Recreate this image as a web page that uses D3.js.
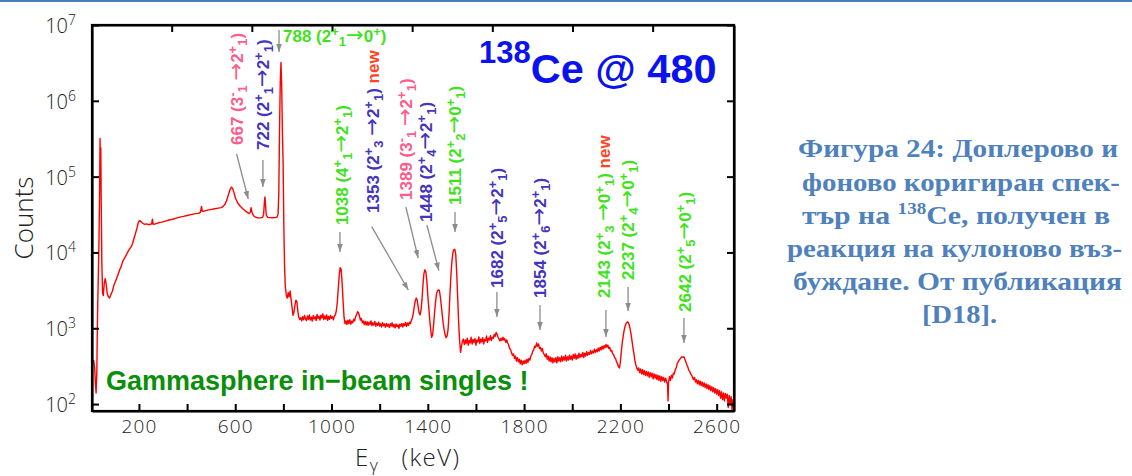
<!DOCTYPE html>
<html>
<head>
<meta charset="utf-8">
<script src="https://cdn.jsdelivr.net/npm/d3@7"></script>
<style>
  html, body { margin: 0; padding: 0; background: #fff; }
  svg { display: block; }
</style>
</head>
<body>
<svg id="chart" width="1132" height="476"></svg>
<script>
// Doppler- and background-corrected gamma-ray singles spectrum: [E (keV), counts]
const spectrum = [
  [12, 380], [16, 300], [19, 190], [22, 140], [25, 260], [28, 1500], [31, 4500], [34, 14000],
  [36.5, 60000], [38.5, 320000], [40, 110000], [41.5, 240000], [43.5, 40000], [46, 7000],
  [49, 2900], [52, 2700], [56, 3900], [60, 4500], [64, 3800], [68, 2900], [73, 2600], [78, 2500],
  [84, 2800], [90, 3100], [96, 3700], [102, 4100], [108, 4600], [114, 5200], [120, 5900],
  [126, 6500], [132, 7500], [138, 8200], [144, 8800], [150, 9600], [156, 10500], [162, 11200],
  [168, 11900], [174, 13200], [180, 15500], [186, 18000], [192, 21000], [197, 24500],
  [202, 26300], [207, 25800], [212, 24800], [218, 24000], [225, 23500], [232, 23800],
  [240, 23200], [248, 23500], [253, 24000], [256, 27500], [259, 23500], [265, 23600],
  [275, 24200], [285, 24800], [295, 25100], [310, 25900], [325, 26800], [340, 27400],
  [355, 28300], [370, 29200], [385, 29900], [400, 30700], [415, 31500], [430, 32300],
  [445, 32800], [454, 33400], [457, 36000], [460, 40500], [463, 35000], [470, 35000],
  [485, 36200], [500, 37000], [515, 37700], [530, 38400], [542, 39000], [550, 40500],
  [558, 43500], [565, 49000], [572, 58000], [578, 67000], [584, 72500], [589, 70000],
  [595, 61000], [602, 51000], [611, 44500], [620, 41000], [630, 38000], [640, 35800],
  [650, 33800], [658, 32500], [662, 33500], [666, 39000], [670, 33500], [676, 30500],
  [684, 29200], [694, 28700], [705, 28600], [714, 29000], [718, 32000], [721, 45000],
  [723.5, 54000], [726, 42000], [729, 31000], [735, 29000], [745, 28800], [755, 28700],
  [765, 28800], [773, 29200], [778, 32000], [781, 60000], [784, 400000], [787, 1700000],
  [790, 3200000], [793, 1600000], [796, 380000], [799, 150000], [802, 22000], [805, 6500],
  [808, 3600], [812, 2750], [816, 2500], [820, 2950], [824, 2600], [828, 3100], [832, 2400],
  [836, 1900], [840, 1480], [844, 1620], [848, 2000], [852, 2350], [856, 2250], [860, 1700],
  [864, 1400], [868, 1300], [872, 1380], [876, 1250], [880, 1420], [884, 1290], [888, 1480],
  [892, 1330], [896, 1260], [900, 1450], [904, 1310], [908, 1500], [912, 1280], [916, 1400],
  [920, 1240], [924, 1470], [928, 1330], [932, 1420], [936, 1260], [940, 1520], [944, 1350],
  [948, 1440], [952, 1280], [956, 1490], [960, 1360], [964, 1550], [968, 1300], [972, 1450],
  [976, 1320], [980, 1500], [984, 1270], [988, 1430], [992, 1310], [996, 1480], [1000, 1350],
  [1004, 1420], [1008, 1290], [1012, 1460], [1016, 1500], [1020, 1700], [1024, 2200],
  [1028, 3300], [1032, 5000], [1036, 6300], [1040, 6000], [1044, 4000], [1048, 2300],
  [1052, 1400], [1056, 1150], [1060, 1250], [1064, 1120], [1068, 1280], [1072, 1150],
  [1076, 1300], [1080, 1130], [1084, 1240], [1088, 1180], [1092, 1320], [1096, 1250],
  [1100, 1420], [1104, 1500], [1108, 1650], [1112, 1600], [1116, 1450], [1120, 1280],
  [1124, 1350], [1128, 1180], [1132, 1250], [1136, 1120], [1140, 1230], [1144, 1100],
  [1148, 1220], [1152, 1090], [1156, 1200], [1160, 1120], [1164, 1250], [1168, 1080],
  [1172, 1180], [1176, 1100], [1180, 1230], [1184, 1060], [1188, 1170], [1192, 1090],
  [1196, 1200], [1200, 1070], [1204, 1150], [1208, 1040], [1212, 1180], [1216, 1080],
  [1220, 1140], [1224, 1030], [1228, 1160], [1232, 1060], [1236, 1130], [1240, 1020],
  [1244, 1150], [1248, 1070], [1252, 1180], [1256, 1040], [1260, 1120], [1264, 1010],
  [1268, 1140], [1272, 1050], [1276, 1110], [1280, 1000], [1284, 1130], [1288, 1060],
  [1292, 1160], [1296, 1040], [1300, 1150], [1304, 1080], [1308, 1190], [1312, 1060],
  [1316, 1170], [1320, 1090], [1324, 1200], [1328, 1150], [1332, 1280], [1336, 1380],
  [1340, 1600], [1344, 1950], [1348, 2300], [1352, 2500], [1356, 2350], [1360, 1900],
  [1364, 1600], [1368, 1500], [1372, 1750], [1376, 2400], [1380, 3800], [1384, 5300],
  [1388, 5900], [1392, 5500], [1396, 4200], [1400, 2700], [1404, 1900], [1408, 1300],
  [1412, 950], [1416, 760], [1420, 820], [1424, 1100], [1428, 1600], [1432, 2200],
  [1436, 2800], [1440, 3100], [1444, 3200], [1448, 3150], [1452, 2600], [1456, 2000],
  [1460, 1500], [1464, 1150], [1468, 950], [1472, 820], [1476, 750], [1480, 790],
  [1484, 950], [1488, 1500], [1492, 2800], [1496, 5000], [1500, 7500], [1504, 9800],
  [1508, 10900], [1512, 11000], [1516, 9500], [1520, 5500], [1524, 2600], [1528, 1200],
  [1532, 700], [1536, 480], [1540, 580], [1544, 680], [1548, 720], [1552, 610], [1556, 700],
  [1560, 630], [1564, 740], [1568, 600], [1572, 690], [1576, 640], [1580, 760], [1584, 620],
  [1588, 710], [1592, 650], [1596, 730], [1600, 600], [1604, 700], [1608, 660], [1612, 770],
  [1616, 630], [1620, 720], [1624, 660], [1628, 750], [1632, 620], [1636, 710], [1640, 680],
  [1644, 790], [1648, 650], [1652, 740], [1656, 700], [1660, 800], [1664, 690], [1668, 760],
  [1672, 740], [1676, 830], [1680, 780], [1684, 880], [1688, 830], [1692, 760], [1696, 720],
  [1700, 680], [1704, 740], [1708, 690], [1712, 760], [1716, 700], [1720, 730], [1724, 650],
  [1728, 700], [1732, 640], [1736, 600], [1740, 540], [1744, 520], [1748, 470], [1752, 440],
  [1756, 460], [1760, 400], [1764, 430], [1768, 370], [1772, 410], [1776, 360], [1780, 390],
  [1784, 340], [1788, 380], [1792, 330], [1796, 370], [1800, 340], [1804, 380], [1808, 345],
  [1812, 390], [1816, 355], [1820, 400], [1824, 380], [1828, 430], [1832, 450], [1836, 500],
  [1840, 520], [1844, 580], [1848, 560], [1852, 640], [1856, 580], [1860, 620], [1864, 540],
  [1868, 560], [1872, 500], [1876, 540], [1880, 470], [1884, 450], [1888, 420], [1892, 460],
  [1896, 390], [1900, 430], [1904, 370], [1908, 420], [1912, 360], [1916, 410], [1920, 350],
  [1924, 400], [1928, 360], [1932, 410], [1936, 350], [1940, 420], [1944, 370], [1948, 410],
  [1952, 360], [1956, 430], [1960, 370], [1964, 420], [1968, 380], [1972, 440], [1976, 370],
  [1980, 420], [1984, 380], [1988, 440], [1992, 390], [1996, 430], [2000, 380], [2004, 450],
  [2008, 400], [2012, 460], [2016, 390], [2020, 440], [2024, 400], [2028, 470], [2032, 410],
  [2036, 450], [2040, 420], [2044, 480], [2048, 410], [2052, 470], [2056, 430], [2060, 490],
  [2064, 440], [2068, 480], [2072, 450], [2076, 510], [2080, 460], [2084, 500], [2088, 470],
  [2092, 530], [2096, 480], [2100, 520], [2104, 490], [2108, 550], [2112, 500], [2116, 560],
  [2120, 520], [2124, 580], [2128, 530], [2132, 590], [2136, 550], [2140, 610], [2144, 560],
  [2148, 600], [2152, 540], [2156, 560], [2160, 500], [2164, 510], [2168, 460], [2172, 450],
  [2176, 410], [2180, 400], [2184, 360], [2188, 340], [2192, 310], [2196, 300], [2200, 360],
  [2204, 500], [2208, 650], [2212, 800], [2216, 950], [2220, 1070], [2224, 1160], [2228, 1200],
  [2232, 1210], [2236, 1130], [2240, 1000], [2244, 850], [2248, 690], [2252, 560], [2256, 470],
  [2260, 380], [2264, 330], [2268, 300], [2272, 280], [2276, 300], [2280, 260], [2284, 290],
  [2288, 250], [2292, 285], [2296, 245], [2300, 275], [2304, 240], [2308, 270], [2312, 235],
  [2316, 265], [2320, 225], [2324, 260], [2328, 230], [2332, 255], [2336, 215], [2340, 250],
  [2344, 220], [2348, 245], [2352, 210], [2356, 240], [2360, 205], [2364, 235], [2368, 200],
  [2372, 230], [2376, 205], [2380, 225], [2384, 195], [2388, 220], [2392, 200], [2396, 180],
  [2398, 110], [2400, 190], [2404, 230], [2408, 205], [2412, 240], [2416, 220], [2420, 255],
  [2424, 250], [2428, 285], [2432, 300], [2436, 340], [2440, 360], [2444, 380], [2448, 395],
  [2452, 410], [2456, 420], [2460, 415], [2464, 420], [2468, 390], [2472, 360], [2476, 330],
  [2480, 310], [2484, 280], [2488, 270], [2492, 250], [2496, 240], [2500, 225], [2504, 210],
  [2508, 225], [2512, 195], [2516, 210], [2520, 185], [2524, 205], [2528, 180], [2532, 200],
  [2536, 175], [2540, 195], [2544, 170], [2548, 190], [2552, 165], [2556, 185], [2560, 160],
  [2564, 180], [2568, 155], [2572, 175], [2576, 150], [2580, 170], [2584, 145], [2588, 165],
  [2592, 140], [2596, 160], [2600, 135], [2604, 155], [2608, 130], [2612, 150], [2616, 120],
  [2620, 145], [2624, 115], [2628, 140], [2632, 110], [2636, 138], [2640, 120], [2644, 135],
  [2648, 90], [2652, 130], [2656, 100], [2660, 125], [2664, 85], [2668, 115], [2672, 95]
];

// Axis ticks
const xTickValues = [200, 400, 600, 800, 1000, 1200, 1400, 1600, 1800, 2000, 2200, 2400, 2600];
const xTickLabels = [200, 600, 1000, 1400, 1800, 2200, 2600];
const topTickValues = [336, 669, 1002, 1335, 1668, 2001, 2334];
const yTickValues = [1e2, 1e3, 1e4, 1e5, 1e6, 1e7];

// Transition labels (^{..} superscript, _{..} subscript) and the peaks they point at
const lineLabels = [
  "667 (3^{-}_{1} →2^{+}_{1})",
  "722 (2^{+}_{1}→2^{+}_{1})",
  "788 (2^{+}_{1}→0^{+})",
  "1038 (4^{+}_{1}→2^{+}_{1})",
  "1353 (2^{+}_{3} →2^{+}_{1})",
  "1389 (3^{-}_{1} →2^{+}_{1})",
  "1448 (2^{+}_{4}→2^{+}_{1})",
  "1511 (2^{+}_{2}→0^{+}_{1})",
  "1682 (2^{+}_{5}→2^{+}_{1})",
  "1854 (2^{+}_{6}→2^{+}_{1})",
  "2143 (2^{+}_{3} →0^{+}_{1})",
  "2237 (2^{+}_{4}→0^{+}_{1})",
  "2642 (2^{+}_{5}→0^{+}_{1})"
];
const lineTags = ["", "", "", "", "new", "", "", "", "", "", "new", "", ""];
const arrowKeV = [654, 715, 782, 1035, 1319, 1360, 1446, 1513, 1687, 1866, 2140, 2232, 2464];
const arrowCounts = [50700, 73000, 4400000, 10100, 3200, 8450, 5780, 18600, 1410, 950, 767, 1690, 640];

// Label styling / placement (pixels relative to the arrow tip)
const PINK = "#ff5c8a", PURPLE = "#4534bd", GREEN = "#3fe31c", NEW_RED = "#ff4422";
const lineColors = [PINK, PURPLE, GREEN, GREEN, PURPLE, PINK, PURPLE, GREEN, PURPLE, PURPLE, GREEN, GREEN, GREEN];
const lineLayout = [
  { tail: [-11.6, -45], label: [0.8, -9] },
  { tail: [0, -27], label: [0, -10] },
  { tail: [0, -22], label: [4, 12], horizontal: true },
  { tail: [0, -20], label: [1.7, -7] },
  { tail: [-36.6, -63.3], label: [1.3, -13.7] },
  { tail: [-12.3, -51], label: [0, -7] },
  { tail: [-12, -45.5], label: [-1, -3] },
  { tail: [0, -20], label: [0, -7] },
  { tail: [0, -25], label: [0, -4] },
  { tail: [0, -25], label: [0, -7] },
  { tail: [0, -27], label: [-2, -12] },
  { tail: [0, -24], label: [0, -7] },
  { tail: [0, -25], label: [1, -6] }
];

// Caption lines
const captionLines = [
  ["Фигура 24: Доплерово и"],
  ["фоново коригиран спек-"],
  ["тър на ", "^138", "Ce, получен в"],
  ["реакция на кулоново въз-"],
  ["буждане. От публикация"],
  ["[D18]."]
];
const captionLayout = [
  { x: 798, y: 157, w: 320 },
  { x: 802, y: 191, w: 318 },
  { x: 802, y: 224, w: 308 },
  { x: 787, y: 257, w: 335 },
  { x: 793, y: 290, w: 329 },
  { x: 922, y: 323, w: 75 }
];

const W = 1132, H = 476;
const plot = { left: 92, right: 734, top: 25, bottom: 411 };
const AXIS_FONT = "'Open Sans', 'Liberation Sans', sans-serif";
const LABEL_FONT = "'Liberation Sans', Arial, sans-serif";

const x = d3.scaleLinear().domain([5, 2672]).range([plot.left, plot.right]);
const y = d3.scaleLog().domain([81, 1e7]).range([plot.bottom, plot.top]);

const svg = d3.select("#chart");
const defs = svg.append("defs");

defs.append("clipPath").attr("id", "plotClip")
  .append("rect")
  .attr("x", plot.left).attr("y", plot.top)
  .attr("width", plot.right - plot.left).attr("height", plot.bottom - plot.top);

defs.append("marker")
  .attr("id", "arrowHead")
  .attr("viewBox", "0 0 10 10")
  .attr("refX", 10).attr("refY", 5)
  .attr("markerWidth", 8).attr("markerHeight", 8)
  .attr("markerUnits", "userSpaceOnUse")
  .attr("orient", "auto")
  .append("path")
  .attr("d", "M0,1.5L10,5L0,8.5Z")
  .attr("fill", "#8c8c8c");

// Header rule
svg.append("line")
  .attr("x1", 0).attr("x2", W).attr("y1", 1).attr("y2", 1)
  .attr("stroke", "#4a7ebb").attr("stroke-width", 2);

// Spectrum
svg.append("path")
  .datum(spectrum)
  .attr("clip-path", "url(#plotClip)")
  .attr("fill", "none")
  .attr("stroke", "#ff0000")
  .attr("stroke-width", 1.4)
  .attr("stroke-linejoin", "round")
  .attr("d", d3.line().x(d => x(d[0])).y(d => y(d[1])));

// Axes: ticks point inward on all four sides
function styleAxis(g) {
  g.select(".domain").attr("stroke", "#000").attr("stroke-width", 2.2);
  g.selectAll(".tick line").attr("stroke", "#000").attr("stroke-width", 2);
  g.selectAll(".tick text")
    .attr("font-family", AXIS_FONT)
    .attr("font-weight", 300)
    .attr("font-size", 19)
    .attr("letter-spacing", 1.2)
    .attr("fill", "#222");
}
const blank = () => "";

svg.append("g")
  .attr("transform", `translate(0,${plot.bottom})`)
  .call(d3.axisBottom(x).tickValues(xTickValues)
    .tickFormat(d => xTickLabels.includes(d) ? String(d) : "")
    .tickSizeInner(-7).tickSizeOuter(0).tickPadding(9))
  .call(styleAxis);

svg.append("g")
  .attr("transform", `translate(0,${plot.top})`)
  .call(d3.axisTop(x).tickValues(topTickValues).tickFormat(blank)
    .tickSizeInner(-7).tickSizeOuter(0))
  .call(styleAxis);

svg.append("g")
  .attr("transform", `translate(${plot.left},0)`)
  .call(d3.axisLeft(y).tickValues(yTickValues).tickFormat(blank)
    .tickSizeInner(-7).tickSizeOuter(0))
  .call(styleAxis);

svg.append("g")
  .attr("transform", `translate(${plot.right},0)`)
  .call(d3.axisRight(y).tickValues(yTickValues).tickFormat(blank)
    .tickSizeInner(-7).tickSizeOuter(0))
  .call(styleAxis);

svg.append("rect")
  .attr("x", plot.left).attr("y", plot.top)
  .attr("width", plot.right - plot.left).attr("height", plot.bottom - plot.top)
  .attr("fill", "none").attr("stroke", "#000").attr("stroke-width", 2.2);

// Power-of-ten labels on the count axis
const yLab = svg.append("g").selectAll("text")
  .data(yTickValues).join("text")
  .attr("x", 76)
  .attr("y", d => y(d) + 8)
  .attr("text-anchor", "end")
  .attr("font-family", AXIS_FONT)
  .attr("font-weight", 300)
  .attr("font-size", 20)
  .attr("fill", "#222");
yLab.append("tspan").text("10");
yLab.append("tspan").attr("dy", -8).attr("font-size", 14)
  .text(d => String(Math.round(Math.log10(d))));

// Axis titles
svg.append("text")
  .attr("transform", "translate(33,218) rotate(-90)")
  .attr("text-anchor", "middle")
  .attr("font-family", AXIS_FONT)
  .attr("font-weight", 300)
  .attr("font-size", 26)
  .attr("fill", "#222")
  .text("Counts");

const xTitle = svg.append("text")
  .attr("x", 355).attr("y", 466)
  .attr("font-family", AXIS_FONT)
  .attr("font-weight", 300)
  .attr("font-size", 24)
  .attr("letter-spacing", 1.5)
  .attr("fill", "#222");
xTitle.append("tspan").text("E");
xTitle.append("tspan").attr("font-size", 17).attr("dy", 5).text("γ");
xTitle.append("tspan").attr("dy", -5).attr("dx", 22).text("(keV)");

// Nucleus / beam-energy title
const title = svg.append("text")
  .attr("x", 479).attr("y", 83)
  .attr("font-family", LABEL_FONT)
  .attr("font-weight", "bold")
  .attr("fill", "#0a12ee");
title.append("tspan").attr("font-size", 31).attr("dy", -20).text("138");
title.append("tspan").attr("font-size", 41.5).attr("dy", 20).text("Ce @ 480");

svg.append("text")
  .attr("x", 106).attr("y", 390)
  .attr("font-family", LABEL_FONT)
  .attr("font-weight", "bold")
  .attr("font-size", 27)
  .attr("fill", "#0a8f0a")
  .text("Gammasphere in\u2212beam singles !");

// Split a label into plain / superscript / subscript / arrow runs
function parseLabel(str) {
  const out = [];
  const re = /\^\{([^}]*)\}|_\{([^}]*)\}|(→)|([^^_→]+)/g;
  let m;
  while ((m = re.exec(str)) !== null) {
    if (m[1] !== undefined) out.push({ text: m[1], kind: "sup" });
    else if (m[2] !== undefined) out.push({ text: m[2], kind: "sub" });
    else if (m[3] !== undefined) out.push({ text: m[3], kind: "arrow" });
    else out.push({ text: m[4], kind: "" });
  }
  return out;
}

function writeRuns(textSel, runs, color, tag) {
  const BASE = 17, SMALL = 13;
  const offset = { "": 0, arrow: 0, sup: -6, sub: 4 };
  let cur = 0;
  runs.forEach(r => {
    const target = offset[r.kind];
    const ts = textSel.append("tspan")
      .attr("dy", target - cur)
      .attr("fill", color)
      .text(r.text);
    if (r.kind === "sup" || r.kind === "sub") {
      ts.attr("font-size", SMALL);
    } else if (r.kind === "arrow") {
      ts.attr("font-size", 21)
        .attr("font-weight", "normal")
        .attr("font-family", "'DejaVu Sans', sans-serif");
    } else {
      ts.attr("font-size", BASE);
    }
    cur = target;
  });
  if (tag) {
    textSel.append("tspan")
      .attr("dy", -cur)
      .attr("font-size", BASE)
      .attr("fill", NEW_RED)
      .text("\u00a0" + tag);
  }
}

// Transition annotations with arrows
const annot = svg.append("g");
lineLabels.forEach((lab, i) => {
  const lay = lineLayout[i];
  const tipX = x(arrowKeV[i]), tipY = y(arrowCounts[i]);
  const tailX = tipX + lay.tail[0], tailY = tipY + lay.tail[1];

  annot.append("line")
    .attr("x1", tailX).attr("y1", tailY)
    .attr("x2", tipX).attr("y2", tipY)
    .attr("stroke", "#8c8c8c").attr("stroke-width", 1.3)
    .attr("marker-end", "url(#arrowHead)");

  const lx = tailX + lay.label[0], ly = tailY + lay.label[1];
  const t = annot.append("text")
    .attr("font-family", LABEL_FONT)
    .attr("font-weight", "bold");
  if (lay.horizontal) {
    t.attr("x", lx).attr("y", ly);
  } else {
    t.attr("transform", `translate(${lx + 6},${ly}) rotate(-90)`);
  }
  writeRuns(t, parseLabel(lab), lineColors[i], lineTags[i]);
});

// Caption
const cap = svg.append("g")
  .attr("font-family", "'Liberation Serif', 'Times New Roman', serif")
  .attr("font-weight", "bold")
  .attr("font-size", 25)
  .attr("fill", "#4f81bd");
captionLines.forEach((parts, i) => {
  const lay = captionLayout[i];
  const t = cap.append("text")
    .attr("x", lay.x).attr("y", lay.y)
    .attr("textLength", lay.w)
    .attr("lengthAdjust", "spacingAndGlyphs");
  let raised = false;
  parts.forEach(p => {
    if (p.startsWith("^")) {
      t.append("tspan").attr("dy", -10).attr("font-size", 16).text(p.slice(1));
      raised = true;
    } else {
      t.append("tspan").attr("dy", raised ? 10 : 0).text(p);
      raised = false;
    }
  });
});
</script>
</body>
</html>
